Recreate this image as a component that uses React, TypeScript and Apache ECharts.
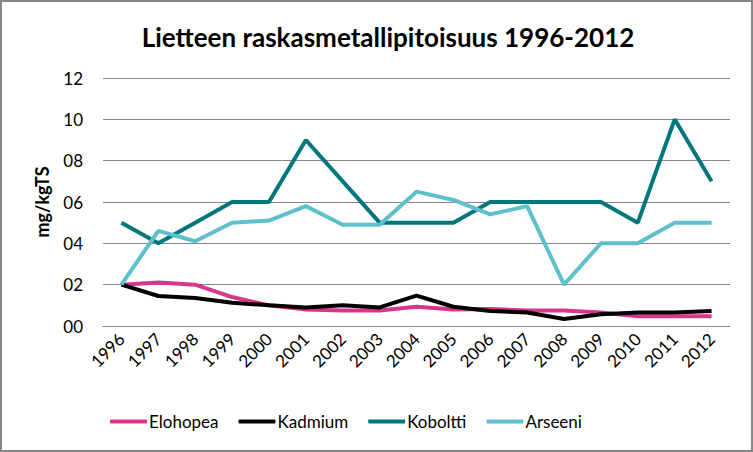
import React, { useEffect, useRef } from "react";
import * as echarts from "echarts";

const years = ["1996","1997","1998","1999","2000","2001","2002","2003","2004","2005","2006","2007","2008","2009","2010","2011","2012"];
const elohopea = [0.20,0.21,0.20,0.14,0.10,0.08,0.075,0.075,0.093,0.08,0.082,0.075,0.075,0.065,0.047,0.047,0.047];
const kadmium = [0.20,0.145,0.135,0.113,0.10,0.09,0.10,0.09,0.147,0.093,0.073,0.065,0.034,0.057,0.065,0.065,0.073];
const koboltti = [0.50,0.40,0.50,0.60,0.60,0.90,0.70,0.50,0.50,0.50,0.60,0.60,0.60,0.60,0.50,1.00,0.70];
const arseeni = [0.20,0.46,0.41,0.50,0.51,0.58,0.49,0.49,0.65,0.61,0.54,0.58,0.20,0.40,0.40,0.50,0.50];
const yTickLabels = ["00","02","04","06","08","10","12"];
const seriesNames = ["Elohopea","Kadmium","Koboltti","Arseeni"];
const seriesColors = ["#D9368B","#000000","#00777D","#5EC0CB"];

const FONT = "Lato, 'Open Sans', sans-serif";

export default function App() {
  const ref = useRef<HTMLDivElement>(null);
  useEffect(() => {
    document.body.style.margin = "0";
    if (!ref.current) return;
    const chart = echarts.init(ref.current, undefined, { renderer: "svg" });
    const data = [elohopea, kadmium, koboltti, arseeni];
    chart.setOption({
      animation: false,
      backgroundColor: "#ffffff",
      title: {
        text: "Lietteen raskasmetallipitoisuus 1996-2012",
        left: 383,
        top: 19,
        textAlign: "center",
        textStyle: { fontFamily: FONT, fontWeight: "bold", fontSize: 26, color: "#000" },
      },
      graphic: [
        {
          type: "rect",
          shape: { x: 1, y: 1, width: 751, height: 450 },
          style: { fill: "none", stroke: "#868686", lineWidth: 2 },
          silent: true,
        },
      ],
      legend: {
        left: 105,
        top: 408,
        itemWidth: 37,
        itemHeight: 4,
        itemGap: 20,
        icon: "roundRect",
        data: seriesNames,
        textStyle: { fontFamily: FONT, fontSize: 17, color: "#000", padding: [0, 0, 0, -3] },
      },
      grid: { left: 103, right: 23, top: 78, bottom: 126, containLabel: false },
      xAxis: {
        type: "category",
        data: years,
        boundaryGap: true,
        axisLine: { show: true, lineStyle: { color: "#868686", width: 1 } },
        axisTick: { show: false },
        axisLabel: { rotate: 45, margin: 10, interval: 0, fontFamily: FONT, fontSize: 17, color: "#000" },
      },
      yAxis: {
        type: "value",
        min: 0,
        max: 1.2,
        interval: 0.2,
        name: "mg/kgTS",
        nameLocation: "middle",
        nameGap: 52,
        nameTextStyle: { fontFamily: FONT, fontWeight: "bold", fontSize: 18, color: "#000" },
        axisLine: { show: false },
        axisTick: { show: false },
        splitLine: { lineStyle: { color: "#868686", width: 1 } },
        axisLabel: {
          margin: 20,
          fontFamily: FONT,
          fontSize: 17,
          color: "#000",
          formatter: (v: number) => yTickLabels[Math.round(v / 0.2)] ?? "",
        },
      },
      series: seriesNames.map((name, i) => ({
        name,
        type: "line",
        data: data[i],
        symbol: "none",
        lineStyle: { color: seriesColors[i], width: 4 },
        itemStyle: { color: seriesColors[i] },
      })),
    });
    return () => chart.dispose();
  }, []);
  return <div ref={ref} style={{ width: 753, height: 452 }} />;
}
